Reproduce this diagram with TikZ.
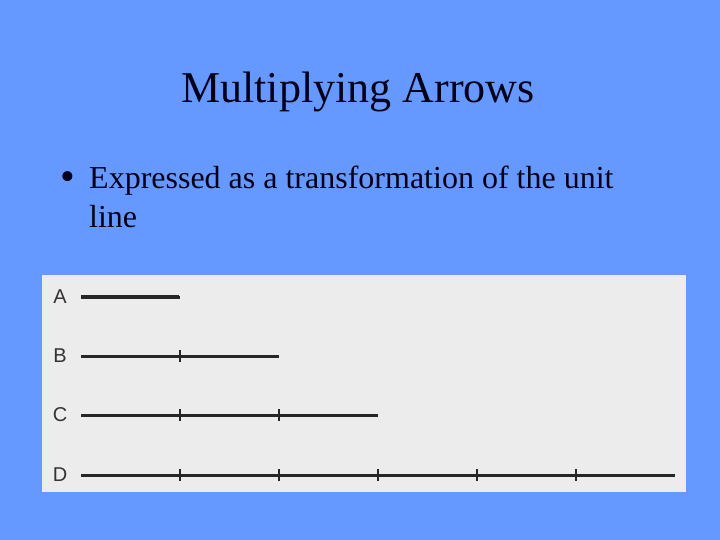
\documentclass[tikz,border=0pt]{standalone}
\usepackage{fontspec}
\setmainfont{Liberation Serif}
\newfontfamily\scanfont{Liberation Sans}
\usepackage{tikz}
\usetikzlibrary{positioning}

\definecolor{slideblue}{HTML}{6699FF}
\definecolor{scangray}{HTML}{ECECEC}
\definecolor{slideink}{HTML}{00001A}

\begin{document}
\begin{tikzpicture}[x=1pt, y=-1pt,
	slidetext/.style={font=\fontsize{32}{36}\selectfont, text=slideink, inner sep=0pt},
	scanlabel/.style={font=\scanfont\fontsize{20}{20}\selectfont, text=black!80},
	unitline/.style={line width=3pt, draw=black!85},
	unittick/.style={line width=2.2pt, draw=black!85}]
% Slide background and the fixed page size
\fill[slideblue] (0,0) rectangle (720,540);
\useasboundingbox (0,0) rectangle (720,540);

% Title and the bullet point
\node[anchor=base, font=\fontsize{44}{50}\selectfont, text=slideink] (title) at (358,103) {Multiplying Arrows};
\node[anchor=base west, font=\fontsize{42}{42}\selectfont, text=slideink, inner sep=0pt] (bullet) at (60,191) {\textbullet};
\node[slidetext, anchor=base west] (item) at (89,189)
	{Expressed as a transformation of the unit};
\node[slidetext, anchor=base west] (itemcont) at (89,227) {line};

% The scanned figure: a light paper area with the unit line repeated
\fill[scangray] (42,275) rectangle (686,492);

% Each row is the unit line taken \n times, with a tick between the copies
\foreach \name/\y/\n in {A/297/1, B/356/2, C/415/3, D/475/6} {
	\node[scanlabel] (lab\name) at (60,\y) {\name};
	\draw[unitline] (81,\y) -- ++(99*\n,0);
	\ifnum\n>1
		\foreach \k in {2,...,\n}
			\draw[unittick] (81+99*\k-99,\y-6) -- ++(0,12);
	\fi
}
% the unit line A is printed a little heavier
\draw[line width=3.6pt, draw=black!85] (81,297) -- (179,297);
\end{tikzpicture}
\end{document}
